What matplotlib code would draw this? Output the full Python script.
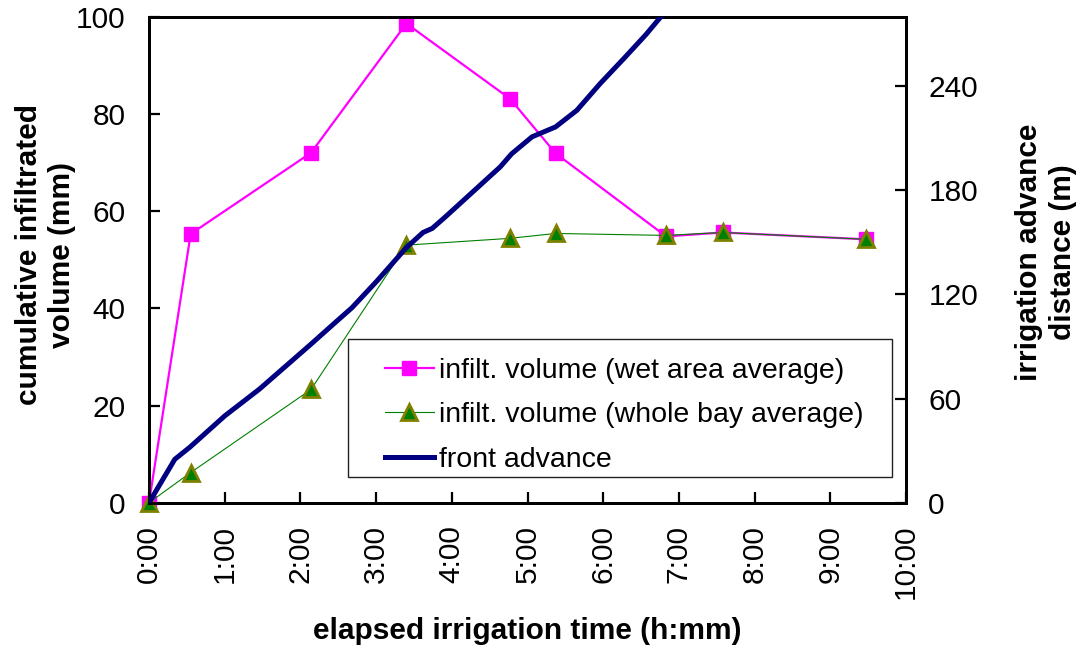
import matplotlib.pyplot as plt
from matplotlib.patches import Rectangle
from matplotlib.ticker import FuncFormatter, MultipleLocator

plt.rcParams["font.family"] = ["Liberation Sans", "DejaVu Sans"]

# elapsed time (hours) of each measurement
meas_time = [0.0, 0.55, 2.14, 3.40, 4.77, 5.37, 6.83, 7.58, 9.47]
wet_avg = [0.0, 55.3, 72.0, 98.6, 83.1, 71.9, 54.8, 55.6, 54.2]
bay_avg = [0.0, 6.2, 23.3, 53.0, 54.4, 55.4, 55.0, 55.6, 54.2]

# front advance trace (hours, metres)
adv_time = [0.0, 0.34, 0.54, 1.0, 1.46, 2.13, 2.48, 2.68, 3.01, 3.40, 3.62,
            3.74, 3.91, 4.64, 4.79, 5.06, 5.37, 5.65, 5.96, 6.27, 6.56, 6.82]
adv_dist = [0, 25, 32, 50, 65.5, 91, 104.6, 112.3, 127.7, 147, 155.7,
            158, 164.5, 193.5, 201, 210.8, 216.5, 226, 241.5, 255.8, 269.5, 283]

labels = ["infilt. volume (wet area average)",
          "infilt. volume (whole bay average)",
          "front advance"]

fig = plt.figure(figsize=(10.83, 6.5), dpi=100)
ax = fig.add_axes([0.1376, 0.2266, 0.699, 0.7477])
ax2 = ax.twinx()

l1, = ax.plot(meas_time, wet_avg, color="#ff00ff", lw=1.6, marker="s",
              ms=10.5, mfc="#ff00ff", mec="#ff00ff", clip_on=False, zorder=3)
l2, = ax.plot(meas_time, bay_avg, color="#008000", lw=0.8, marker="^",
              ms=11, mfc="#008000", mec="#808000", mew=2, clip_on=False, zorder=4)
l3, = ax2.plot(adv_time, adv_dist, color="#000080", lw=3.6, zorder=3)

ax.set_xlim(0, 10)
ax.set_ylim(0, 100)
ax2.set_ylim(0, 280)
ax.xaxis.set_major_locator(MultipleLocator(1))
ax.xaxis.set_major_formatter(FuncFormatter(lambda v, p: f"{int(round(v))}:00"))
ax.yaxis.set_major_locator(MultipleLocator(20))
ax2.yaxis.set_major_locator(MultipleLocator(60))

for a in (ax, ax2):
    for s in a.spines.values():
        s.set_linewidth(2)
    a.tick_params(direction="in", length=8, width=1.6, labelsize=21.5)
ax.tick_params(axis="x", labelrotation=90, pad=16)
ax.tick_params(axis="y", pad=17)
ax2.tick_params(axis="y", pad=16)

lab = dict(fontsize=21.5, fontweight="bold", ha="center", va="center",
           multialignment="center", linespacing=1.25)
fig.text(0.487, 0.029, "elapsed irrigation time (h:mm)", **lab)
fig.text(0.042, 0.608, "cumulative infiltrated\nvolume (mm)", rotation=90, **lab)
fig.text(0.966, 0.612, "irrigation advance\ndistance (m)", rotation=90, **lab)

# legend box drawn separately so the handles can sit further in
box = Rectangle((0.2629, 0.0529), 0.7186, 0.284, transform=ax2.transAxes,
                facecolor="white", edgecolor="#222222", lw=1.0, zorder=6)
ax2.add_patch(box)
leg = ax2.legend([l1, l2, l3], labels, loc="upper left",
                 bbox_to_anchor=(0.312, 0.298), fontsize=20.5, frameon=False,
                 handlelength=1.7, handletextpad=0.2, borderpad=0,
                 labelspacing=0.65, borderaxespad=0)
leg.set_zorder(7)

fig.savefig("out.png", dpi=100)
